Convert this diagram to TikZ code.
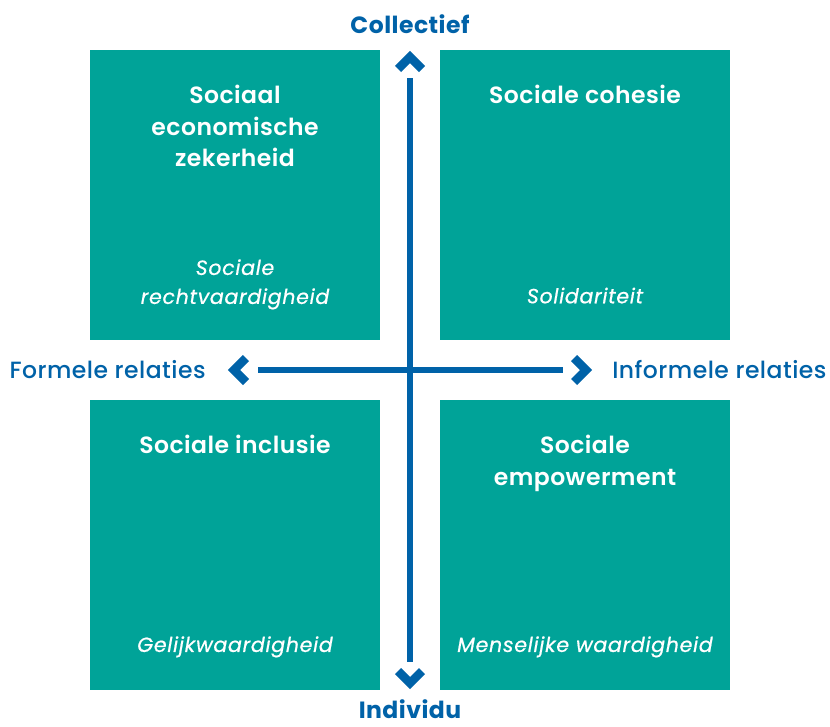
\documentclass[tikz,border=0pt]{standalone}
\usepackage{fontspec}
\setmainfont{Poppins}
\newfontfamily\pmed{Poppins Medium}
\newfontfamily\pmedit{Poppins Italic}
\newfontfamily\psemi{Poppins SemiBold}
\definecolor{qteal}{HTML}{00A398}
\definecolor{axblue}{HTML}{0062A8}
\begin{document}
\begin{tikzpicture}[x=1pt,y=-1pt,
  quad/.style={fill=qteal,draw=none,minimum width=290pt,minimum height=290pt,inner sep=0pt,anchor=north west},
  qtitle/.style={text=white,font=\psemi\fontsize{23.5}{31.5}\selectfont\addfontfeature{LetterSpace=2},align=center,anchor=north},
  qsub/.style={text=white,font=\pmedit\fontsize{20.5}{29}\selectfont\addfontfeature{LetterSpace=3.5,FakeBold=0.6},align=center,anchor=south},
  axlabel/.style={text=axblue,font=\pmed\fontsize{23.5}{26}\selectfont\addfontfeature{LetterSpace=2}},
  axlabelb/.style={text=axblue,font=\bfseries\fontsize{23.5}{26}\selectfont\addfontfeature{LetterSpace=2}},
  axline/.style={draw=axblue,line width=6pt},
  chev/.style={draw=axblue,line width=8.5pt,line join=miter,line cap=butt}]
\useasboundingbox (0,0) rectangle (830,726);
\node[quad] (tl) at (90,50) {};
\node[quad] (tr) at (440,50) {};
\node[quad] (bl) at (90,400) {};
\node[quad] (br) at (440,400) {};
\node[qtitle] (tlt) at (235,82) {Sociaal\\economische\\zekerheid};
\node[qtitle] (trt) at (585,82) {Sociale cohesie};
\node[qtitle] (blt) at (235,432) {Sociale inclusie};
\node[qtitle] (brt) at (585,432) {Sociale\\empowerment};
\node[qsub] (tls) at (235,313) {Sociale\\rechtvaardigheid};
\node[qsub] (trs) at (585,307) {Solidariteit};
\node[qsub] (bls) at (235,661) {Gelijkwaardigheid};
\node[qsub] (brs) at (585,661) {Menselijke waardigheid};
\node[axlabelb] (col) at (410,24) {Collectief};
\node[axlabelb,inner sep=0pt] (ind) at (410,709) {Individu};
\node[axlabel,anchor=west] (for) at (6,370) {Formele relaties};
\node[axlabel,anchor=east] (inf) at (830,370) {Informele relaties};
\coordinate (vt) at (410,78);
\coordinate (vb) at (410,662);
\coordinate (hl) at (258,370);
\coordinate (hr) at (563,370);
\draw[axline] (vt) -- (vb);
\draw[axline] (hl) -- (hr);
\draw[chev] (398,69) -- (410,57) -- (422,69);
\draw[chev] (398,671) -- (410,683) -- (422,671);
\draw[chev] (246,358) -- (234,370) -- (246,382);
\draw[chev] (574,358) -- (586,370) -- (574,382);
\end{tikzpicture}
\end{document}
